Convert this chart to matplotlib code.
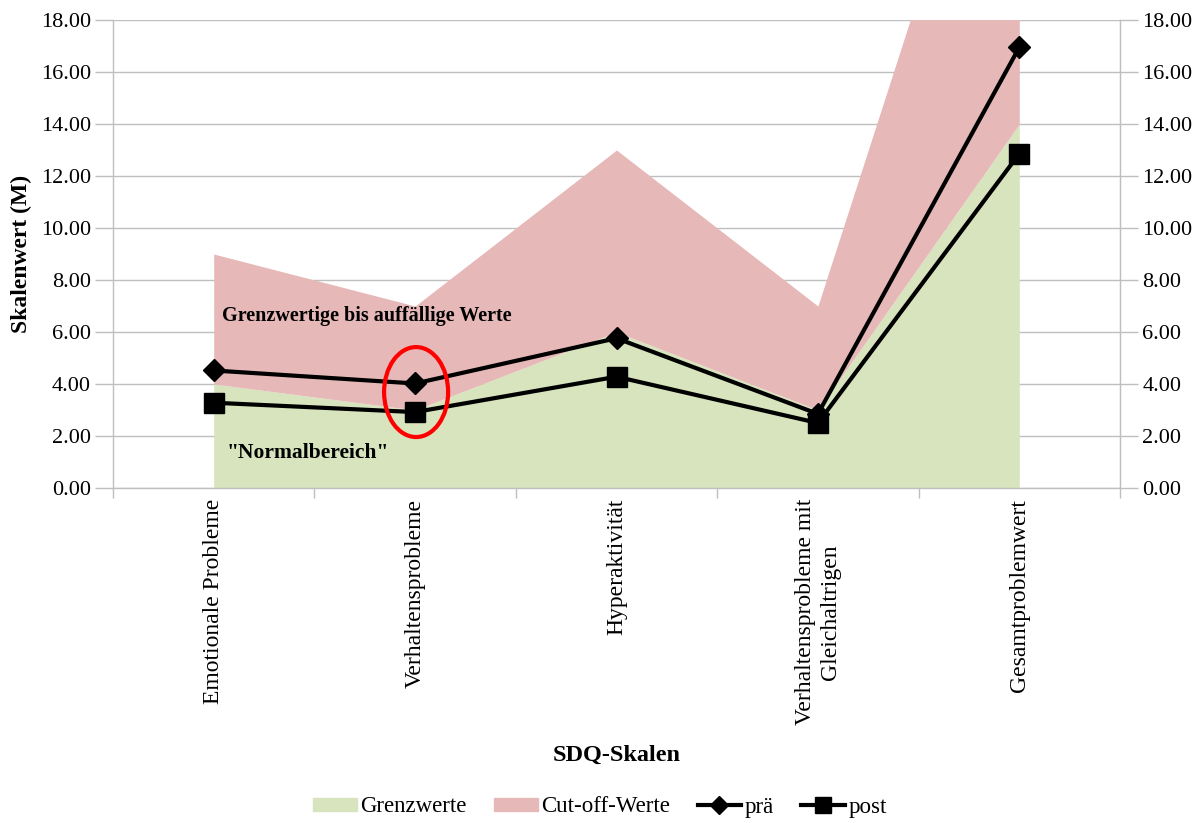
import numpy as np
import matplotlib.pyplot as plt
from matplotlib.patches import Ellipse, Patch
from matplotlib.lines import Line2D

plt.rcParams['font.family'] = ['Liberation Serif', 'DejaVu Serif']

# SDQ scales and values
skalen = ['Emotionale Probleme', 'Verhaltensprobleme', 'Hyperaktivität',
          'Verhaltensprobleme mit\nGleichaltrigen', 'Gesamtproblemwert']
grenzwerte = [4, 3, 6, 3, 14]          # upper limit of normal range
cutoff = [5, 4, 7, 4, 17]              # stacked on top of Grenzwerte
prae = [4.52, 4.02, 5.76, 2.85, 16.95]
post = [3.28, 2.92, 4.28, 2.5, 12.86]

GREEN = '#d7e4bd'
PINK = '#e6b9b8'
GRID = '#bfbfbf'

x = np.arange(len(skalen))
stack_top = np.array(grenzwerte) + np.array(cutoff)

fig = plt.figure(figsize=(12.03, 8.23), dpi=100)
ax = fig.add_axes([113 / 1203, 1 - 488 / 823, (1120 - 113) / 1203, (488 - 20) / 823])

ax.fill_between(x, 0, grenzwerte, color=GREEN, lw=0, zorder=1)
ax.fill_between(x, grenzwerte, stack_top, color=PINK, lw=0, zorder=1)

ax.plot(x, prae, color='black', lw=3, marker='D', ms=11, zorder=3)
ax.plot(x, post, color='black', lw=3, marker='s', ms=15, zorder=3)

ax.set_xlim(-0.5, len(skalen) - 0.5)
ax.set_ylim(0, 18)
ax.set_yticks(np.arange(0, 19, 2))
ax.yaxis.set_major_formatter(plt.FuncFormatter(lambda v, p: f'{v:.2f}'))
ax.grid(axis='y', color=GRID, lw=1, zorder=0)
ax.set_axisbelow(True)

# category boundaries as tick marks, labels at centres
ax.set_xticks(np.arange(-0.5, len(skalen)), minor=False)
ax.set_xticklabels([])
ax.set_xticks(x, minor=True)
ax.set_xticklabels(skalen, minor=True, rotation=90, fontsize=17,
                   va='top', ha='center', multialignment='center')
ax.tick_params(axis='x', which='minor', length=0, pad=8)
ax.tick_params(axis='x', which='major', length=7, color=GRID, width=1)
ax.tick_params(axis='y', length=13, color=GRID, width=1, labelsize=16, pad=3)

ax.spines['top'].set_visible(False)
for side in ['left', 'bottom', 'right']:
    ax.spines[side].set_color(GRID)
    ax.spines[side].set_linewidth(1)

ax2 = ax.twinx()
ax2.set_ylim(0, 18)
ax2.set_yticks(np.arange(0, 19, 2))
ax2.yaxis.set_major_formatter(plt.FuncFormatter(lambda v, p: f'{v:.2f}'))
ax2.tick_params(axis='y', length=13, color=GRID, width=1, labelsize=16, pad=3)
for side in ['top', 'left', 'bottom']:
    ax2.spines[side].set_visible(False)
ax2.spines['right'].set_color(GRID)

ax.set_ylabel('Skalenwert (M)', fontsize=17, fontweight='bold', labelpad=6)
fig.text(617 / 1203, 1 - 755 / 823, 'SDQ-Skalen', fontsize=17.5, fontweight='bold',
         ha='center', va='center')

ax.text(0.04, 6.6, 'Grenzwertige bis auffällige Werte', fontsize=14.5,
        fontweight='bold', va='center', zorder=4)
ax.text(0.065, 1.35, '"Normalbereich"', fontsize=15.5, fontweight='bold',
        va='center', zorder=4)

ax.add_patch(Ellipse((1.005, 3.69), 0.318, 3.46, fill=False, edgecolor='#ff0000',
                     lw=3, zorder=5))

handles = [Patch(color=GREEN, label='Grenzwerte'),
           Patch(color=PINK, label='Cut-off-Werte'),
           Line2D([], [], color='black', lw=3, marker='D', ms=9, label='prä'),
           Line2D([], [], color='black', lw=3, marker='s', ms=12, label='post')]
fig.legend(handles=handles, loc='center', bbox_to_anchor=(600 / 1203, 1 - 807 / 823),
           ncol=4, frameon=False, fontsize=16.5, handlelength=1.9, handleheight=0.5,
           columnspacing=1.2, handletextpad=0.15)

fig.savefig('out.png', dpi=100)
